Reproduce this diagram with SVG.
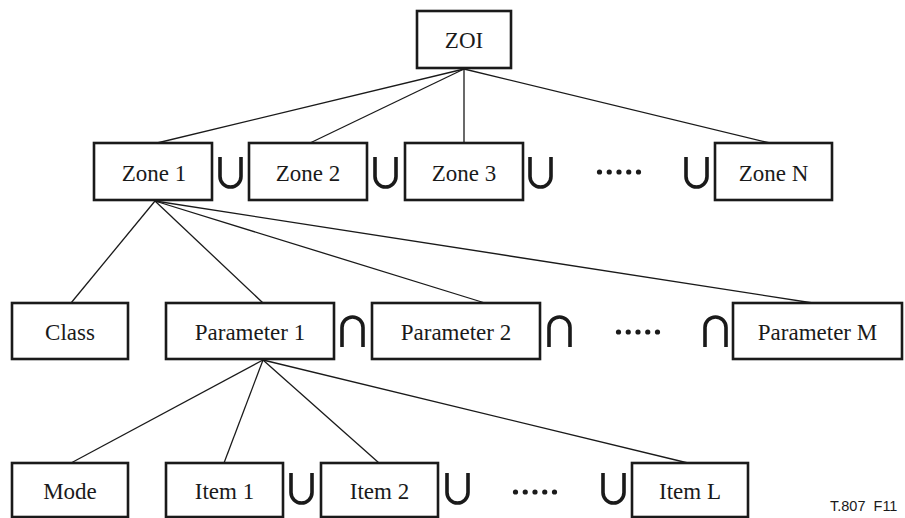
<svg xmlns="http://www.w3.org/2000/svg" width="905" height="518" viewBox="0 0 905 518" font-family="'Liberation Serif', 'Times New Roman', serif">
<defs>
<style>
.box{fill:#fff;stroke:#1a1a1a;stroke-width:2.6}
.lbl{font-family:'Liberation Serif','Times New Roman',serif;font-size:23px;fill:#1a1a1a;text-anchor:middle}
.con line{stroke:#1a1a1a;stroke-width:1.3}
.op{fill:none;stroke:#1a1a1a;stroke-width:3.6}
.dot{fill:#1a1a1a}
</style>
<path id="cup" d="M0,0 V19.5 A10.5,10.5 0 0 0 21,19.5 V0"/>
<path id="cap" d="M0,30 V10.5 A10.5,10.5 0 0 1 21,10.5 V30"/>
<g id="dots"><circle cx="2.5" cy="0" r="2.6"/><circle cx="12.25" cy="0" r="2.6"/><circle cx="22" cy="0" r="2.6"/><circle cx="31.75" cy="0" r="2.6"/><circle cx="41.5" cy="0" r="2.6"/></g>
</defs>
<rect width="905" height="518" fill="#fff"/>
<g id="connectors" class="con">
<line x1="464" y1="69" x2="157" y2="143"/>
<line x1="464" y1="69" x2="310" y2="143"/>
<line x1="464" y1="69" x2="464" y2="143"/>
<line x1="464" y1="69" x2="770" y2="143"/>
<line x1="155" y1="201" x2="71" y2="303"/>
<line x1="155" y1="201" x2="263" y2="303"/>
<line x1="155" y1="201" x2="485" y2="303"/>
<line x1="155" y1="201" x2="813" y2="303"/>
<line x1="263" y1="360" x2="71" y2="463"/>
<line x1="263" y1="360" x2="224" y2="463"/>
<line x1="263" y1="360" x2="379" y2="463"/>
<line x1="263" y1="360" x2="688" y2="463"/>
</g>
<g id="zoi"><rect class="box" x="417" y="11" width="94" height="57"/><text class="lbl" x="464" y="48">ZOI</text></g>
<g id="zone1"><rect class="box" x="94" y="143" width="118" height="57"/><text class="lbl" x="154" y="181">Zone 1</text></g>
<g id="zone2"><rect class="box" x="249" y="143" width="118" height="57"/><text class="lbl" x="308" y="181">Zone 2</text></g>
<g id="zone3"><rect class="box" x="405" y="143" width="118" height="57"/><text class="lbl" x="464" y="181">Zone 3</text></g>
<g id="zoneN"><rect class="box" x="715" y="143" width="117" height="57"/><text class="lbl" x="773.5" y="181">Zone N</text></g>
<g id="class"><rect class="box" x="12" y="303" width="116" height="56"/><text class="lbl" x="70" y="340">Class</text></g>
<g id="param1"><rect class="box" x="166" y="303" width="168" height="56"/><text class="lbl" x="250" y="340">Parameter 1</text></g>
<g id="param2"><rect class="box" x="372" y="303" width="168" height="56"/><text class="lbl" x="456" y="340">Parameter 2</text></g>
<g id="paramM"><rect class="box" x="733" y="303" width="169" height="56"/><text class="lbl" x="817.5" y="340">Parameter M</text></g>
<g id="mode"><rect class="box" x="12" y="463" width="116" height="54"/><text class="lbl" x="70" y="499">Mode</text></g>
<g id="item1"><rect class="box" x="166" y="463" width="117" height="54"/><text class="lbl" x="224.5" y="499">Item 1</text></g>
<g id="item2"><rect class="box" x="321" y="463" width="117" height="54"/><text class="lbl" x="379.5" y="499">Item 2</text></g>
<g id="itemL"><rect class="box" x="632" y="463" width="116" height="54"/><text class="lbl" x="690" y="499">Item L</text></g>
<g id="operators" class="op">
<use href="#cup" x="220" y="157"/>
<use href="#cup" x="375" y="157"/>
<use href="#cup" x="530" y="157"/>
<use href="#cup" x="686" y="157"/>
<use href="#cap" x="342" y="317"/>
<use href="#cap" x="549" y="317"/>
<use href="#cap" x="705" y="317"/>
<use href="#cup" x="291" y="473"/>
<use href="#cup" x="447" y="473"/>
<use href="#cup" x="603" y="473"/>
</g>
<g id="ellipses" class="dot">
<use href="#dots" x="597" y="172"/>
<use href="#dots" x="616" y="332"/>
<use href="#dots" x="513" y="492"/>
</g>
<text x="830" y="511" font-family="'Liberation Sans', Arial, sans-serif" font-size="14.5" fill="#1a1a1a" xml:space="preserve">T.807  F11</text>
</svg>
